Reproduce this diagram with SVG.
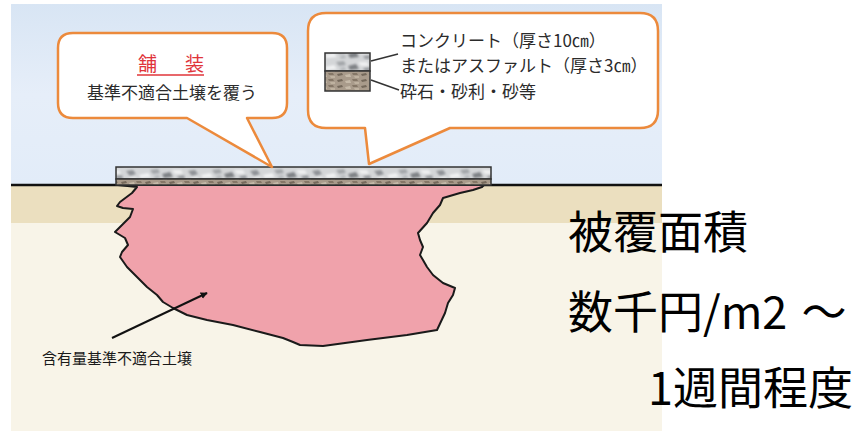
<svg xmlns="http://www.w3.org/2000/svg" width="857" height="431" viewBox="0 0 857 431">
  <style>
    text { font-family: "Noto Sans CJK JP", "Noto Sans", sans-serif; }
    .callout { fill: #ffffff; stroke: #ec8a3c; stroke-width: 2.5; stroke-linejoin: round; }
    .note { font-size: 17px; fill: #2b2b2b; }
    .big { font-size: 45px; fill: #000000; }
    .lead { stroke: #333333; stroke-width: 1.5; fill: none; }
    .swatch { stroke: #333333; stroke-width: 1.5; }
  </style>
  <defs>
    <linearGradient id="sky" x1="0" y1="0" x2="0" y2="1">
      <stop offset="0" stop-color="#d8e5f4"/>
      <stop offset="0.5" stop-color="#e6eef9"/>
      <stop offset="1" stop-color="#e2ecf9"/>
    </linearGradient>
    <filter id="soft" x="-10%" y="-10%" width="120%" height="120%">
      <feGaussianBlur stdDeviation="0.8"/>
    </filter>
    <!-- mottled concrete / asphalt texture -->
    <pattern id="concrete" width="62" height="12" patternUnits="userSpaceOnUse">
      <rect width="62" height="12" fill="#d4d6d8"/>
      <g filter="url(#soft)">
        <path d="M2,3 L9,2 L12,6 L6,8 Z" fill="#8f9296"/>
        <path d="M15,7 L24,5 L27,9 L17,10 Z" fill="#f1f2f3"/>
        <path d="M26,2 L34,1 L36,5 L29,6 Z" fill="#a3a6a9"/>
        <path d="M38,6 L46,4 L49,9 L40,10 Z" fill="#7e8185"/>
        <path d="M48,2 L57,2 L59,6 L51,6 Z" fill="#eeeff0"/>
        <path d="M53,8 L60,7 L61,11 L55,11 Z" fill="#9a9da1"/>
        <path d="M5,9 L12,9 L13,11 L6,11 Z" fill="#e8e9ea"/>
        <path d="M30,8 L35,7 L36,10 L31,11 Z" fill="#b5b8bb"/>
      </g>
    </pattern>
    <pattern id="gravel" width="24" height="6" patternUnits="userSpaceOnUse">
      <rect width="24" height="6" fill="#a99b8b"/>
      <path d="M1,2 L6,1 L7,3 L2,4 Z" fill="#75695b"/>
      <path d="M9,3 L14,2 L15,5 L10,5 Z" fill="#c6baa9"/>
      <path d="M16,1 L21,1 L22,3 L17,3 Z" fill="#857767"/>
      <path d="M18,4 L23,4 L23,6 L19,6 Z" fill="#bfb2a0"/>
    </pattern>
    <marker id="head" viewBox="0 0 10 10" refX="9" refY="5" markerWidth="7" markerHeight="7" orient="auto" markerUnits="userSpaceOnUse">
      <path d="M0,0 L10,5 L0,10 Z" fill="#111111"/>
    </marker>
  </defs>

  <rect width="857" height="431" fill="#ffffff"/>

  <!-- ground section -->
  <g id="ground">
    <rect x="11" y="4" width="651" height="181" fill="url(#sky)"/>
    <rect x="11" y="185" width="651" height="246" fill="#f8f4e8"/>
    <rect x="11" y="185" width="651" height="38" fill="#ebdfbf"/>
    <line x1="11" y1="185" x2="662" y2="185" stroke="#111111" stroke-width="2.5"/>
  </g>

  <!-- contaminated soil body -->
  <g id="contaminated-soil">
    <path fill="#f0a2ab" stroke="#1a1a1a" stroke-width="2" stroke-linejoin="round"
      d="M118,185 L137,187 L132,193 L120,202 L117,206 L123,208 L133,209 L130,217 L122,225 L115,232 L125,238 L128,245 L122,252 L120,257 L127,267 L137,277 L147,287 L157,295 L163,302 L173,308 L187,315 L207,320 L233,325 L260,332 L283,338 L293,342 L300,345 L323,346 L367,340 L407,335 L437,330 L445,313 L448,303 L453,295 L455,288 L443,283 L433,275 L427,267 L423,260 L420,255 L423,247 L420,240 L418,233 L427,223 L433,213 L440,205 L443,198 L460,193 L473,190 L482,187 L484,185 Z"/>
  </g>

  <!-- pavement slab -->
  <g id="slab">
    <rect x="116" y="167" width="375" height="12" fill="url(#concrete)" class="swatch"/>
    <rect x="116" y="179" width="375" height="6" fill="url(#gravel)" class="swatch"/>
  </g>

  <!-- callout: paving -->
  <g id="callout-paving">
    <path class="callout" d="M73,33 H272 Q287,33 287,48 V103 Q287,118 272,118 H247 L272,167 L187,118 H73 Q58,118 58,103 V48 Q58,33 73,33 Z"/>
    <text x="138 161 185" y="71" font-size="19" fill="#e0343a">舗　装</text>
    <line x1="137" y1="75" x2="204" y2="75" stroke="#e0343a" stroke-width="1.5"/>
    <text class="note" x="172" y="99" text-anchor="middle">基準不適合土壌を覆う</text>
  </g>

  <!-- callout: layer legend -->
  <g id="callout-layers">
    <path class="callout" d="M326,13 H640 Q658,13 658,31 V110 Q658,128 640,128 H450 L369,164 L365,128 H326 Q308,128 308,110 V31 Q308,13 326,13 Z"/>
    <rect x="325" y="53" width="45" height="18" fill="url(#concrete)" class="swatch"/>
    <rect x="325" y="71" width="45" height="20" fill="url(#gravel)" class="swatch"/>
    <text class="note" x="400" y="47">コンクリート（厚さ10㎝）</text>
    <text class="note" x="400" y="72">またはアスファルト（厚さ3㎝）</text>
    <text class="note" x="400" y="98">砕石・砂利・砂等</text>
  </g>

  <!-- soil label -->
  <g id="label-soil">
    <text x="42" y="364" font-size="15" fill="#1a1a1a">含有量基準不適合土壌</text>
  </g>

  <!-- summary figures -->
  <g id="summary">
    <text class="big" x="568" y="249">被覆面積</text>
    <text class="big" x="568" y="329">数千円/m2 <tspan dx="4">～</tspan></text>
    <text class="big" x="648" y="405">1週間程度</text>
  </g>

  <!-- connectors -->
  <g id="connectors">
    <line x1="112" y1="338" x2="207" y2="293" stroke="#111111" stroke-width="2" marker-end="url(#head)"/>
    <line class="lead" x1="371" y1="61" x2="398" y2="54"/>
    <line class="lead" x1="371" y1="80" x2="399" y2="90"/>
  </g>
</svg>
